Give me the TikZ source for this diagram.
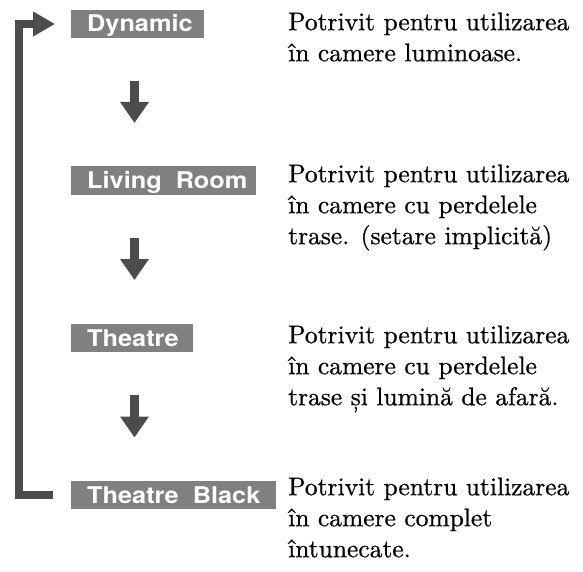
\documentclass[tikz,border=0pt]{standalone}
\usepackage{fontspec}
\usepackage{graphicx}
\setmainfont{lmroman10-regular.otf}[FakeBold=0.7]
\newfontfamily\lblfont{TeX Gyre Heros}
\usetikzlibrary{arrows.meta}
\definecolor{boxgray}{RGB}{128,128,130}
\definecolor{arrowgray}{RGB}{76,76,76}
\newcommand{\lbl}[1]{\scalebox{1.1}[1]{\lblfont\bfseries\fontsize{23}{23}\selectfont #1}}
\tikzset{
  modebox/.style={fill=boxgray, text=white, anchor=west, minimum height=28pt,
    inner xsep=16pt, inner ysep=0pt, text height=16pt, text depth=0pt},
  desc/.style={anchor=north west, align=left, inner sep=0pt,
    font=\fontsize{25.5}{31}\selectfont},
  downarrow/.style={draw=arrowgray, line width=9.5pt,
    -{Triangle[length=21pt,width=27.5pt]}},
  looparrow/.style={draw=arrowgray, line width=8.5pt, line join=miter,
    -{Triangle[length=22pt,width=23.5pt]}}
}
\begin{document}
\begin{tikzpicture}[x=1pt,y=-1pt]
\useasboundingbox (0,0) rectangle (583,572);
\node[modebox] (dyn) at (71,24) {\makebox[101pt][l]{\lbl{Dynamic}}};
\node[modebox] (liv) at (71,180.5) {\makebox[153pt][l]{\lbl{Living\ \ Room}}};
\node[modebox] (the) at (71,338) {\makebox[90pt][l]{\lbl{Theatre}}};
\node[modebox] (tb) at (71,495) {\makebox[173pt][l]{\lbl{Theatre\ \ Black}}};

\node[desc] (d1) at (288,12.3) {Potrivit pentru utilizarea\\în camere luminoase.};
\node[desc] (d2) at (288,164.3) {Potrivit pentru utilizarea\\în camere cu perdelele\\trase. (setare implicită)};
\node[desc] (d3) at (288,325.3) {Potrivit pentru utilizarea\\în camere cu perdelele\\trase și lumină de afară.};
\node[desc] (d4) at (288,477.3) {Potrivit pentru utilizarea\\în camere complet\\întunecate.};

\coordinate (a1s) at (134.5,81);
\coordinate (a1e) at (134.5,123);
\coordinate (a2s) at (134.5,238);
\coordinate (a2e) at (134.5,280);
\coordinate (a3s) at (134.5,395);
\coordinate (a3e) at (134.5,437.5);
\draw[downarrow] (a1s) -- (a1e);
\draw[downarrow] (a2s) -- (a2e);
\draw[downarrow] (a3s) -- (a3e);

\draw[looparrow] ([xshift=-18pt]tb.west) -| ([xshift=-52pt]dyn.west) -- ([xshift=-16pt]dyn.west);
\end{tikzpicture}
\end{document}
